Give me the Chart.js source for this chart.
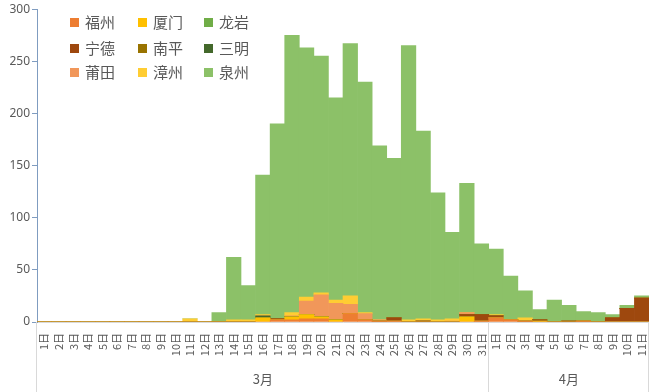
<!DOCTYPE html>
<html>
<head>
<meta charset="utf-8">
<script src="https://cdn.jsdelivr.net/npm/chart.js@4/dist/chart.umd.min.js"></script>
<style>
  html, body { margin: 0; padding: 0; background: #fff; }
  #wrap { width: 649px; height: 392px; }
</style>
</head>
<body>
<div id="wrap"><canvas id="chart" width="649" height="392"></canvas></div>
<script>
// 日期标签：3月1日 - 4月11日
const dayLabels = [
    '1日','2日','3日','4日','5日','6日','7日','8日','9日','10日',
    '11日','12日','13日','14日','15日','16日','17日','18日','19日','20日',
    '21日','22日','23日','24日','25日','26日','27日','28日','29日','30日','31日',
    '1日','2日','3日','4日','5日','6日','7日','8日','9日','10日','11日'
];
const months = ['3月', '4月'];
const monthDays = [31, 11];

const cities = ['福州', '厦门', '龙岩', '宁德', '南平', '三明', '莆田', '漳州', '泉州'];
const cityColors = ['#ED7D31', '#FFC000', '#70AD47', '#9E480E', '#997300', '#43682B', '#F1975A', '#FFCD33', '#8CC168'];

//               3/1 ......................................................................... 3/31 | 4/1 ............... 4/11
const fuzhou   = [0,0,0,0,0,0,0,0,0,0, 0,0,0,0,0,0,2,2,3,3, 0,8,2,1,1,0,0,0,0,0,1, 4,2,1,0,0,0,1,0,0,0,0];
const xiamen   = [0,0,0,0,0,0,0,0,0,0, 0,0,0,0,0,4,0,3,4,2, 2,0,0,0,0,0,0,0,0,5,0, 0,0,0,1,0,0,0,0,0,0,0];
const longyan  = [0,0,0,0,0,0,0,0,0,0, 0,0,0,0,0,0,0,0,0,0, 0,0,0,0,0,0,0,0,0,0,0, 0,0,0,0,0,0,0,0,0,0,0];
const ningde   = [0,0,0,0,0,0,0,0,0,0, 0,0,0,0,0,0,1,0,0,0, 0,0,0,0,3,0,1,0,0,2,6, 2,0,0,1,0,1,0,0,4,13,23];
const nanping  = [0,0,0,0,0,0,0,0,0,0, 0,0,0,0,0,0,0,0,0,0, 0,0,0,0,0,0,0,0,0,0,0, 0,0,0,0,0,0,0,0,0,0,0];
const sanming  = [0,0,0,0,0,0,0,0,0,0, 0,0,0,0,0,2,0,0,0,0, 0,0,0,0,0,0,0,0,0,0,0, 0,0,0,0,0,0,0,0,0,0,0];
const putian   = [0,0,0,0,0,0,0,0,0,0, 0,0,0,0,0,0,0,1,13,21, 16,9,6,1,0,0,0,0,1,2,0, 0,0,0,0,0,0,0,0,0,0,0];
const zhangzhou= [0,0,0,0,0,0,0,0,0,0, 3,0,0,2,2,1,0,3,4,2, 3,8,1,0,0,2,2,2,2,0,0, 1,0,3,0,0,0,0,0,0,0,0];
const quanzhou = [0,0,0,0,0,0,0,0,0,0, 0,0,9,60,33,134,187,266,239,227, 194,242,221,167,153,263,180,122,83,124,68, 63,42,26,10,21,15,9,9,3,3,2];

const yTicks = [0, 50, 100, 150, 200, 250, 300];

const seriesData = [fuzhou, xiamen, longyan, ningde, nanping, sanming, putian, zhangzhou, quanzhou];

// 图例：三列三行，画在绘图区左上角
const gridLegend = {
    id: 'gridLegend',
    afterDraw(chart) {
        const ctx = chart.ctx;
        const colX = [70, 138, 204];
        const rowY = [22.5, 48.5, 72.5];
        ctx.save();
        ctx.font = '15px "Noto Sans CJK SC", sans-serif';
        ctx.textBaseline = 'middle';
        ctx.textAlign = 'left';
        chart.data.datasets.forEach((ds, i) => {
            const x = colX[i % 3];
            const y = rowY[Math.floor(i / 3)];
            ctx.fillStyle = ds.backgroundColor;
            ctx.fillRect(x, y - 4.5, 9, 9);
            ctx.fillStyle = '#595959';
            ctx.fillText(ds.label, x + 15, y);
        });
        ctx.restore();
    }
};

// 月份分组标签和分隔线
const monthGroups = {
    id: 'monthGroups',
    afterDraw(chart) {
        const ctx = chart.ctx;
        const xs = chart.scales.x;
        const top = chart.chartArea.bottom;
        const bottom = chart.height;
        const half = (xs.getPixelForValue(1) - xs.getPixelForValue(0)) / 2;
        let edges = [xs.left];
        let idx = 0;
        monthDays.forEach((n) => {
            idx += n;
            edges.push(xs.getPixelForValue(idx - 1) + half);
        });
        ctx.save();
        ctx.strokeStyle = '#D9D9D9';
        ctx.lineWidth = 1;
        edges.forEach((ex) => {
            const px = Math.min(Math.round(ex), chart.width) - 0.5;
            ctx.beginPath();
            ctx.moveTo(px, top);
            ctx.lineTo(px, bottom);
            ctx.stroke();
        });
        ctx.fillStyle = '#595959';
        ctx.font = '13px "Noto Sans CJK SC", sans-serif';
        ctx.textAlign = 'center';
        ctx.textBaseline = 'middle';
        months.forEach((m, i) => {
            ctx.fillText(m, (edges[i] + edges[i + 1]) / 2, 379);
        });
        ctx.restore();
    }
};

new Chart(document.getElementById('chart').getContext('2d'), {
    type: 'bar',
    data: {
        labels: dayLabels,
        datasets: cities.map((c, i) => ({
            label: c,
            data: seriesData[i],
            backgroundColor: cityColors[i],
            borderWidth: 0
        }))
    },
    options: {
        responsive: false,
        animation: false,
        layout: { padding: { top: 4, right: 0, left: 0, bottom: 0 } },
        datasets: {
            bar: { barPercentage: 1, categoryPercentage: 1 }
        },
        plugins: {
            legend: { display: false },
            tooltip: { enabled: false }
        },
        scales: {
            x: {
                stacked: true,
                grid: { display: false },
                border: { color: '#D9D9D9' },
                ticks: {
                    minRotation: 90,
                    maxRotation: 90,
                    autoSkip: false,
                    padding: 3,
                    color: '#595959',
                    font: { family: '"Noto Sans CJK SC", sans-serif', size: 11 }
                },
                afterFit(scale) {
                    scale.height = 70;
                    scale.paddingLeft = 0;
                    scale.paddingRight = 0;
                }
            },
            y: {
                stacked: true,
                min: 0,
                max: 300,
                grid: { drawOnChartArea: false, color: '#7F9CC0', tickLength: 5 },
                border: { color: '#7F9CC0' },
                ticks: {
                    stepSize: 50,
                    padding: 2,
                    color: '#595959',
                    font: { family: '"Noto Sans", sans-serif', size: 12 },
                    callback: (v) => yTicks.includes(v) ? v : ''
                },
                afterFit(scale) { scale.width = 37; }
            }
        }
    },
    plugins: [gridLegend, monthGroups]
});
</script>
</body>
</html>
